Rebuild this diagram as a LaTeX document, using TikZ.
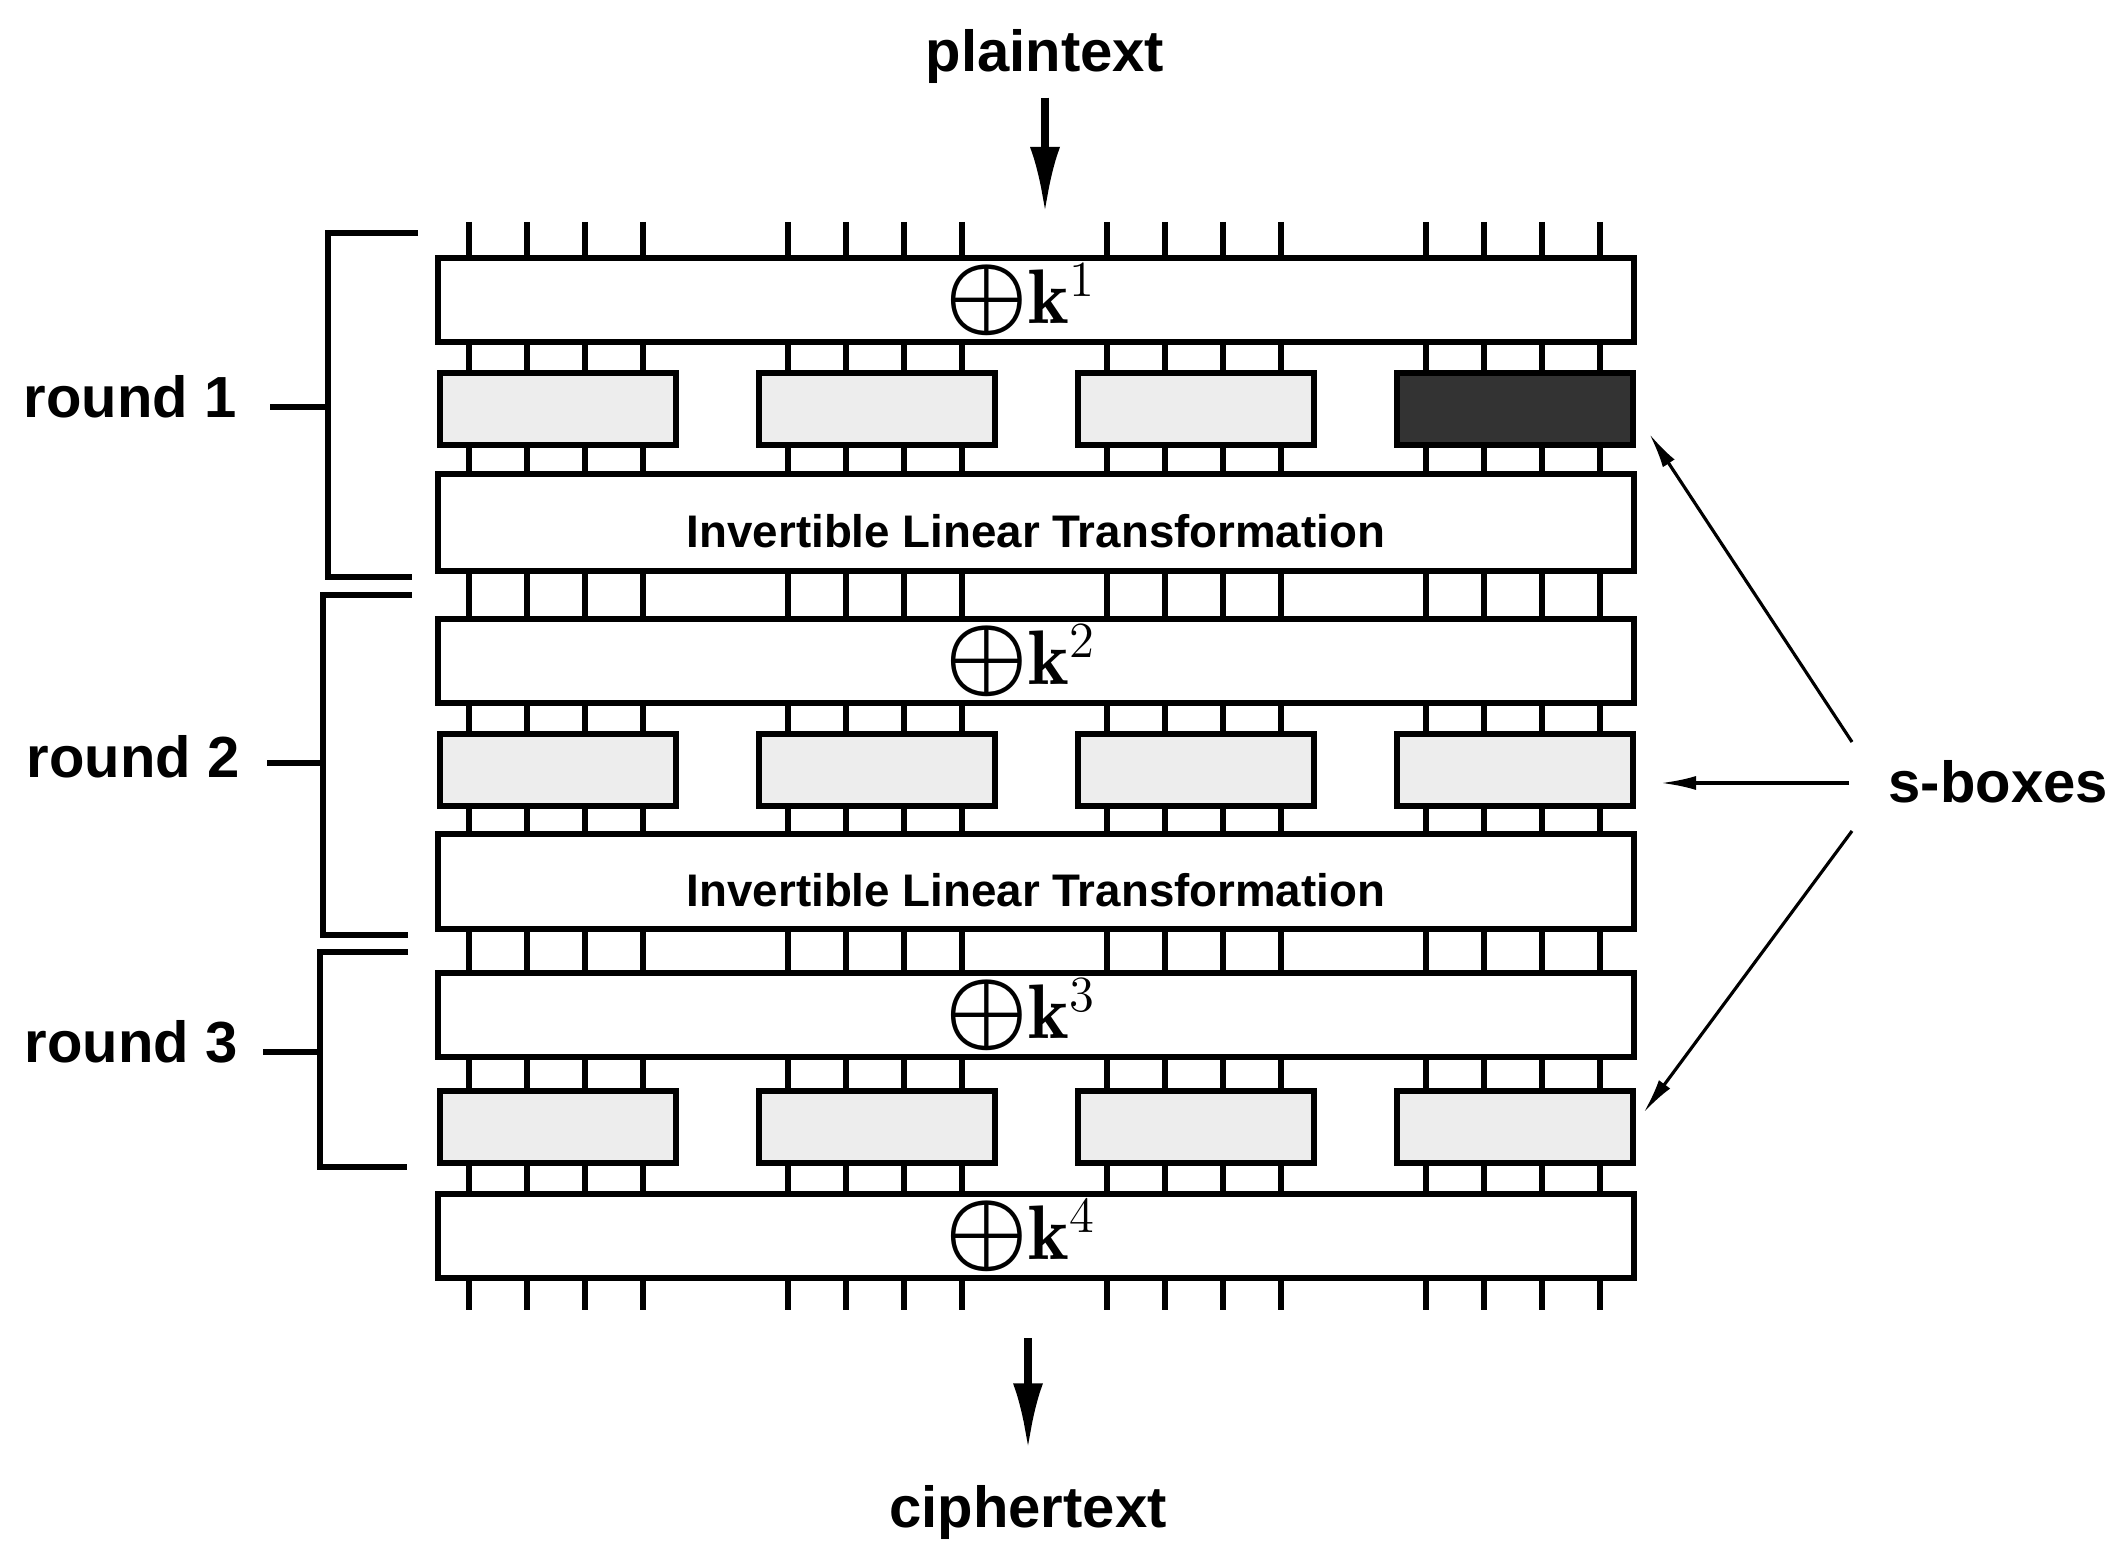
\documentclass[tikz,border=0pt]{standalone}
\usepackage{fontspec}
\usepackage{amsmath}
\usepackage{graphicx}
\usetikzlibrary{arrows.meta}
\newfontfamily\lblfont{Liberation Sans}
\newcommand{\keyxor}[1]{\hspace*{-3mm}\scalebox{1.27}{$\boldsymbol{\oplus}$}$\mathbf{k}^{#1}$}

\begin{document}
\begin{tikzpicture}[x=0.1mm,y=-0.1mm,
  wire/.style={line width=1.7pt},
  stage/.style={draw,line width=1.7pt,anchor=north west,inner sep=0pt,outer sep=0pt,minimum width=119.6mm,fill=white},
  keystage/.style={stage,minimum height=8.4mm,font=\fontsize{22}{26}\selectfont},
  ltstage/.style={stage,font=\lblfont\bfseries\fontsize{13}{16}\selectfont,text height=5.1mm,text depth=0pt},
  sbox/.style={draw,line width=1.7pt,anchor=north west,inner sep=0pt,outer sep=0pt,minimum width=23.6mm,minimum height=7.2mm,fill=black!7},
  words/.style={font=\lblfont\bfseries\fontsize{16.5}{20}\selectfont,inner sep=0pt},
  flow/.style={line width=2pt,-{Latex[length=6.6mm,width=3mm]}},
  ptr/.style={line width=0.9pt,-{Latex[length=3.5mm,width=1.4mm]}},
  brk/.style={line width=1.7pt}]

\useasboundingbox (0,0) rectangle (2108,1541);

% 16 wires through every gap
\foreach \ya/\yb in {222/258,342/373,445/474,571/619,703/734,806/834,929/973,1057/1091,1163/1194,1278/1310}
  \foreach \i in {0,...,3}
    \foreach \j in {0,...,3}
      \draw[wire] ({469+319*\i+58*\j},\ya) -- ({469+319*\i+58*\j},\yb);

\node[keystage] (k1) at (438,258) {\keyxor{1}};
\node[keystage] (k2) at (438,619) {\keyxor{2}};
\node[keystage] (k3) at (438,973) {\keyxor{3}};
\node[keystage] (k4) at (438,1194) {\keyxor{4}};

\node[ltstage,minimum height=9.7mm] (lt1) at (438,474) {Invertible Linear Transformation};
\node[ltstage,minimum height=9.5mm] (lt2) at (438,834) {Invertible Linear Transformation};

\foreach \i in {1,2,3} {
  \node[sbox] (s1\i) at ({440+319*(\i-1)},373) {};
}
\node[sbox,fill=black!80] (s14) at (1397,373) {};
\foreach \i in {1,...,4} {
  \node[sbox] (s2\i) at ({440+319*(\i-1)},734) {};
  \node[sbox] (s3\i) at ({440+319*(\i-1)},1091) {};
}

\node[words,anchor=base] (plain) at (1045,72) {plaintext};
\node[words,anchor=base] (cipher) at (1028,1527) {ciphertext};
\draw[flow,shorten <=1.3mm,shorten >=4.5mm] (plain) -- (plain |- k1.north);
\draw[flow,shorten <=6mm,shorten >=3.5mm] (k4.south -| cipher) -- (cipher);

% rounds
\node[words,anchor=base east] (r1) at (237,418) {round 1};
\node[words,anchor=base east] (r2) at (240,778) {round 2};
\node[words,anchor=base east] (r3) at (238,1063) {round 3};
\coordinate (m1) at (328,407);
\coordinate (m2) at (323,763);
\coordinate (m3) at (320,1052);
\draw[brk] (418,233) -| (m1) |- (412,577);
\draw[brk] (412,595) -| (m2) |- (408,935);
\draw[brk] (408,952) -| (m3) |- (407,1167);
\draw[brk,shorten <=3.3mm] (r1.east |- m1) -- (m1);
\draw[brk,shorten <=2.7mm] (r2.east |- m2) -- (m2);
\draw[brk,shorten <=2.5mm] (r3.east |- m3) -- (m3);

% s-boxes pointers
\node[words,anchor=base west] (sb) at (1888,803) {s-boxes};
\coordinate (sa) at (1852,742);
\coordinate (sm) at (1849,783);
\coordinate (sc) at (1852,831);
\draw[ptr,shorten >=3mm] (sa) -- (s14.east);
\draw[ptr,shorten >=2.8mm] (sm) -- (sm -| s24.east);
\draw[ptr,shorten >=1.8mm] (sc) -- (s34.east);
\end{tikzpicture}
\end{document}
